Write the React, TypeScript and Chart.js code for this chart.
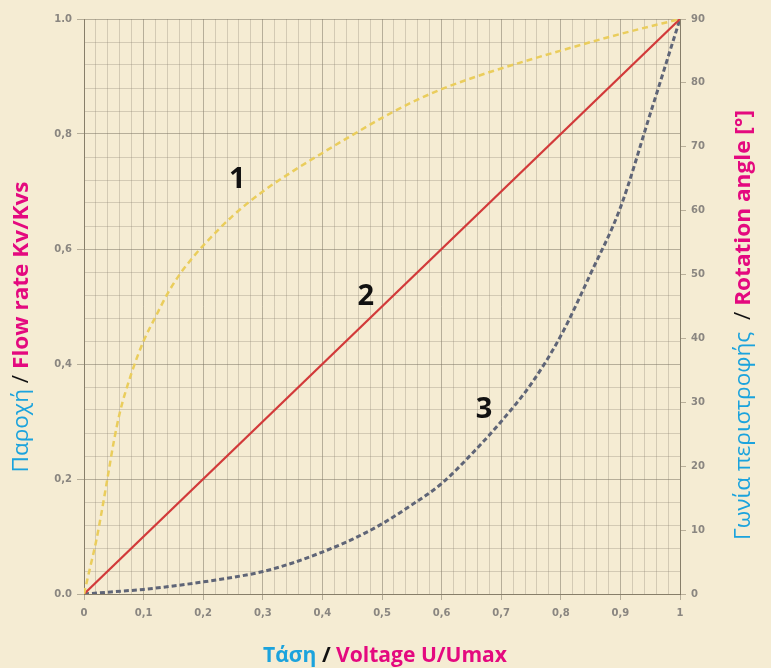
import React, { useEffect, useRef } from "react";
import { Chart, registerables } from "chart.js";

Chart.register(...registerables);

// ---- data ----
const voltage1 = [0, 0.01, 0.02, 0.03, 0.04, 0.05, 0.06, 0.08, 0.1, 0.12, 0.14, 0.16, 0.18, 0.2, 0.25, 0.3, 0.35, 0.4, 0.45, 0.5, 0.55, 0.6, 0.65, 0.7, 0.8, 0.9, 1];
const flow1 = [0, 0.045, 0.09, 0.145, 0.205, 0.265, 0.315, 0.385, 0.44, 0.482, 0.522, 0.555, 0.582, 0.606, 0.658, 0.7, 0.735, 0.767, 0.798, 0.828, 0.855, 0.878, 0.897, 0.914, 0.945, 0.974, 1];

const voltage2 = [0, 1];
const flow2 = [0, 1];

const voltage3 = [0, 0.05, 0.1, 0.15, 0.2, 0.25, 0.3, 0.35, 0.4, 0.45, 0.5, 0.55, 0.6, 0.65, 0.7, 0.75, 0.8, 0.85, 0.9, 0.95, 1];
const flow3 = [0, 0.004, 0.008, 0.014, 0.021, 0.029, 0.039, 0.054, 0.073, 0.095, 0.122, 0.155, 0.192, 0.243, 0.3, 0.365, 0.449, 0.557, 0.672, 0.835, 1];

const xTickLabels = ["0", "0,1", "0,2", "0,3", "0,4", "0,5", "0,6", "0,7", "0,8", "0,9", "1"];
const yTickLabels = ["0.0", "0,2", "0,4", "0,6", "0,8", "1.0"];
const angleTickLabels = ["0", "10", "20", "30", "40", "50", "60", "70", "80", "90"];

const curveNames = ["1", "2", "3"];
const curveNameX = [0.257, 0.473, 0.671];
const curveNameY = [0.72, 0.517, 0.32];

// ---- styles ----
const BG = "#F5ECD3";
const CYAN = "#1BA3DD";
const MAGENTA = "#E4097F";
const FONT = "'Open Sans', 'Noto Sans', sans-serif";
const MAJOR_GRID = "rgba(120,112,95,0.5)";
const MINOR_GRID = "rgba(140,132,115,0.32)";

type Seg = { text: string; color: string; bold: boolean };

function drawSegments(ctx: CanvasRenderingContext2D, segs: Seg[], cx: number, cy: number, rot: number, size: number, target: number) {
  ctx.save();
  ctx.translate(cx, cy);
  ctx.rotate(rot);
  ctx.textBaseline = "middle";
  ctx.textAlign = "left";
  let w = 0;
  for (const g of segs) {
    ctx.font = `${g.bold ? "bold " : ""}${size}px ${FONT}`;
    w += ctx.measureText(g.text).width;
  }
  ctx.scale(target / w, 1);
  let x = -w / 2;
  for (const g of segs) {
    ctx.font = `${g.bold ? "bold " : ""}${size}px ${FONT}`;
    ctx.fillStyle = g.color;
    ctx.fillText(g.text, x, 0);
    x += ctx.measureText(g.text).width;
  }
  ctx.restore();
}

const decorPlugin = {
  id: "decor",
  beforeDraw(chart: any) {
    const { ctx, width, height } = chart;
    ctx.save();
    ctx.fillStyle = BG;
    ctx.fillRect(0, 0, width, height);
    ctx.restore();
  },
  afterDatasetsDraw(chart: any) {
    const { ctx, scales } = chart;
    ctx.save();
    ctx.fillStyle = "#111111";
    ctx.font = `bold 29px ${FONT}`;
    ctx.textAlign = "center";
    ctx.textBaseline = "middle";
    curveNames.forEach((n, i) => {
      ctx.fillText(n, scales.x.getPixelForValue(curveNameX[i]), scales.y.getPixelForValue(curveNameY[i]));
    });
    ctx.restore();
  },
  afterDraw(chart: any) {
    const { ctx } = chart;
    drawSegments(
      ctx,
      [
        { text: "Παροχή", color: CYAN, bold: false },
        { text: " / ", color: "#111111", bold: false },
        { text: "Flow rate Kv/Kvs", color: MAGENTA, bold: true },
      ],
      22, 327, -Math.PI / 2, 21, 291
    );
    drawSegments(
      ctx,
      [
        { text: "Τάση", color: CYAN, bold: true },
        { text: " / ", color: "#111111", bold: true },
        { text: "Voltage U/Umax", color: MAGENTA, bold: true },
      ],
      385, 656, 0, 21, 244
    );
    drawSegments(
      ctx,
      [
        { text: "Γωνία περιστροφής ", color: CYAN, bold: false },
        { text: " / ", color: "#111111", bold: false },
        { text: "Rotation angle [°]", color: MAGENTA, bold: true },
      ],
      744, 325, -Math.PI / 2, 21, 430
    );
  },
};

function isMajor(v: number, step: number) {
  const r = v / step;
  return Math.abs(r - Math.round(r)) < 1e-6;
}

export default function App() {
  const ref = useRef<HTMLCanvasElement | null>(null);
  useEffect(() => {
    if (!ref.current) return;
    const toPts = (xs: number[], ys: number[]) => xs.map((x, i) => ({ x, y: ys[i] }));
    const chart = new Chart(ref.current, {
      type: "line",
      data: {
        datasets: [
          {
            label: "1",
            data: toPts(voltage1, flow1),
            borderColor: "#EACD5C",
            borderWidth: 2.5,
            borderDash: [6, 4],
            pointRadius: 0,
            cubicInterpolationMode: "monotone",
            fill: false,
          },
          {
            label: "2",
            data: toPts(voltage2, flow2),
            borderColor: "#D23A3A",
            borderWidth: 2.2,
            pointRadius: 0,
            fill: false,
          },
          {
            label: "3",
            data: toPts(voltage3, flow3),
            borderColor: "#5F6577",
            borderWidth: 3,
            borderDash: [5, 3],
            pointRadius: 0,
            cubicInterpolationMode: "monotone",
            fill: false,
          },
        ],
      },
      options: {
        animation: false,
        responsive: false,
        events: [],
        layout: { padding: { top: 19, left: 0, right: 0, bottom: 0 } },
        plugins: { legend: { display: false }, tooltip: { enabled: false }, title: { display: false } },
        scales: {
          x: {
            type: "linear",
            min: 0,
            max: 1,
            border: { display: true, color: "rgba(110,100,80,0.65)" },
            grid: {
              color: (c: any) => (isMajor(c.tick?.value ?? 0, 0.1) ? MAJOR_GRID : MINOR_GRID),
              tickColor: (c: any) => (isMajor(c.tick?.value ?? 0, 0.1) ? MAJOR_GRID : "rgba(0,0,0,0)"),
              tickLength: 6,
              lineWidth: 1,
            },
            ticks: {
              stepSize: 0.02,
              autoSkip: false,
              maxRotation: 0,
              padding: 7,
              color: "#8A8680",
              font: { family: "'DejaVu Sans', sans-serif", size: 10, weight: "bold" },
              callback: (v: any, i: number) => (i % 5 === 0 ? xTickLabels[i / 5] : ""),
            },
            afterFit: (s: any) => {
              s.height = 74;
            },
          },
          y: {
            type: "linear",
            position: "left",
            min: 0,
            max: 1,
            border: { display: true, color: "rgba(110,100,80,0.65)" },
            grid: {
              color: (c: any) => (isMajor(c.tick?.value ?? 0, 0.2) ? MAJOR_GRID : MINOR_GRID),
              tickColor: (c: any) => (isMajor(c.tick?.value ?? 0, 0.2) ? MAJOR_GRID : "rgba(0,0,0,0)"),
              tickLength: 7,
              lineWidth: 1,
            },
            ticks: {
              stepSize: 0.04,
              autoSkip: false,
              padding: 5,
              color: "#8A8680",
              font: { family: "'DejaVu Sans', sans-serif", size: 10, weight: "bold" },
              callback: (v: any, i: number) => (i % 5 === 0 ? yTickLabels[i / 5] : ""),
            },
            afterFit: (s: any) => {
              s.width = 84;
            },
          },
          y2: {
            type: "linear",
            position: "right",
            min: 0,
            max: 90,
            border: { display: true, color: "rgba(110,100,80,0.65)" },
            grid: {
              drawOnChartArea: false,
              tickLength: 6,
              tickColor: "rgba(115,105,85,0.45)",
            },
            ticks: {
              stepSize: 10,
              autoSkip: false,
              padding: 5,
              color: "#8A8680",
              font: { family: "'DejaVu Sans', sans-serif", size: 10, weight: "bold" },
              callback: (v: any, i: number) => angleTickLabels[i],
            },
            afterFit: (s: any) => {
              s.width = 91;
            },
          },
        },
      } as any,
      plugins: [decorPlugin],
    });
    return () => chart.destroy();
  }, []);
  return (
    <div style={{ position: "fixed", left: 0, top: 0, width: 771, height: 668, background: BG }}>
      <canvas ref={ref} width={771} height={668} style={{ display: "block" }} />
    </div>
  );
}
